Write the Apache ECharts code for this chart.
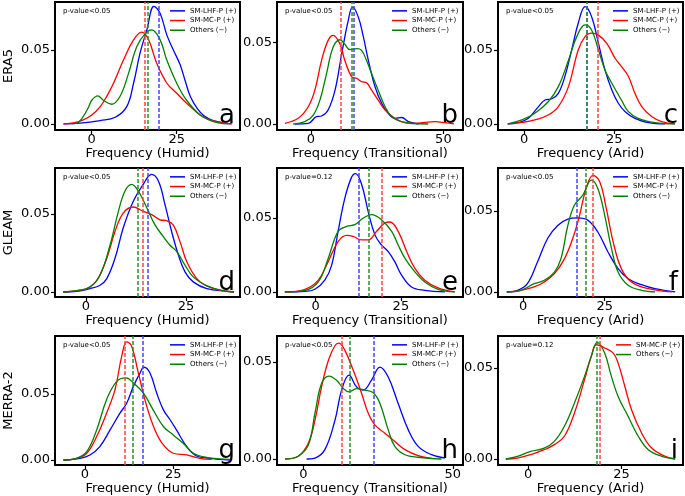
<!DOCTYPE html>
<html><head><meta charset="utf-8">
<script src="https://cdn.jsdelivr.net/npm/echarts@6/dist/echarts.min.js"></script>
<style>html,body{margin:0;padding:0;background:#fff}#c{width:685px;height:496px}</style>
</head><body><div id="c"></div>
<script>
// ---------- DATA ----------
const seriesNames = ['SM-LHF-P (+)', 'SM-MC-P (+)', 'Others (\u2212)'];
const rowNames = ['ERA5', 'GLEAM', 'MERRA-2'];
const xTitles = ['Frequency (Humid)', 'Frequency (Transitional)', 'Frequency (Arid)'];
const panelLetters = ['a','b','c','d','e','f','g','h','i'];
const pValues = ['p-value<0.05','p-value<0.05','p-value<0.05','p-value<0.05','p-value=0.12','p-value<0.05','p-value<0.05','p-value<0.05','p-value=0.12'];
const xTicks = [[0,25],[0,50],[0,25],[0,25],[0,25],[0,25],[0,25],[0,50],[0,25]];
const yTicks = [0, 0.05];

// vertical dashed lines [LHF, MC, Others]
const a_med = [19.6, 15.5, 16.5];
const b_med = [16.2, 11.2, 15.4];
const c_med = [17.3, 20.3, 17.3];
const d_med = [15.4, 14.3, 12.9];
const e_med = [12.7, 19.3, 15.7];
const f_med = [16.4, 21.4, 19.3];
const g_med = [16.4, 11.3, 13.4];
const h_med = [23.6, 13.0, 15.4];
const i_med = [null, 19.3, 18.4];

// ERA5 Humid
const a_lhf = [[-8.3,0],[-3.4,0.0005],[2.5,0.0023],[6.9,0.0045],[10.3,0.0117],[12.3,0.0275],[14.2,0.0478],[16.2,0.0635],[18.3,0.0795],[20.1,0.0748],[22.1,0.06],[24,0.05],[26,0.04],[27.5,0.029],[29,0.0185],[31,0.0105],[33,0.0055],[35,0.003],[37,0.0015],[39.5,0.0004],[41,0]];
const a_mc  = [[-8.3,0],[-5,0.0008],[-2.5,0.0027],[0,0.006],[2.5,0.0117],[4.5,0.019],[6.4,0.0275],[9.3,0.043],[12.3,0.0568],[14.7,0.062],[16.7,0.057],[19.1,0.041],[22.1,0.0275],[25,0.0207],[27.9,0.014],[31.9,0.006],[34.5,0.003],[36.8,0.0016],[39,0.0005],[41.3,0]];
const a_oth = [[-5.9,0],[-4,0.001],[-2.5,0.005],[-1,0.011],[0,0.016],[1.8,0.019],[3.4,0.016],[5.9,0.0133],[8.3,0.0185],[10.8,0.034],[13.2,0.052],[15.7,0.061],[17.6,0.0635],[20.1,0.0568],[22.1,0.043],[25,0.0275],[27.9,0.016],[31.9,0.006],[35.8,0.0016],[40,0]];
// ERA5 Transitional
const b_lhf = [[-6,0],[-1,0.0004],[2.1,0.0045],[4,0.0049],[6.5,0.0086],[9.1,0.0208],[11.6,0.043],[14.1,0.0637],[15.7,0.0718],[17.9,0.0657],[19.8,0.0535],[21.7,0.039],[24.2,0.0229],[26.7,0.0127],[29.2,0.0065],[31.7,0.0035],[34.3,0.004],[36.8,0.0014],[40.6,0]];
const b_mc  = [[-9.8,0.0004],[-4.8,0.0035],[-1,0.0106],[1.5,0.0208],[4,0.039],[6.5,0.0514],[8.4,0.0545],[11,0.049],[12.8,0.039],[15.4,0.029],[17.3,0.028],[19.1,0.026],[21,0.0253],[22.9,0.0208],[25.4,0.0147],[28,0.0086],[31.7,0.0035],[35.5,0.0008],[39.3,0.0004],[43,0.001],[46.9,0.0014],[50.6,0.0008],[54,0]];
const b_oth = [[-6.7,0],[-2.3,0.0014],[0.9,0.0055],[3.4,0.0147],[5.9,0.031],[8.4,0.0473],[11,0.0518],[12.8,0.049],[14.7,0.0457],[17.3,0.0463],[19.1,0.0453],[21,0.039],[22.9,0.031],[25.4,0.0208],[28,0.0106],[30.5,0.0045],[34.3,0.0014],[38,0.0003],[44.3,0]];
// ERA5 Arid
const c_lhf = [[-4.5,0],[-1.6,0.0009],[1.2,0.0038],[4,0.0117],[5.8,0.0162],[7.7,0.017],[9.5,0.0207],[11.3,0.032],[13.2,0.05],[15,0.068],[16.9,0.0793],[18.7,0.0725],[20.6,0.0545],[22.4,0.0365],[24.3,0.023],[26.1,0.014],[28,0.0083],[30.7,0.0038],[34.4,0.0009],[39,0]];
const c_mc  = [[-4.5,0],[-0.6,0.001],[3,0.0027],[6.7,0.006],[9.5,0.0117],[12.3,0.0252],[15,0.05],[16.9,0.059],[18.7,0.0613],[20.6,0.06],[22.9,0.0545],[25.2,0.0444],[27,0.0387],[28.9,0.032],[30.7,0.0207],[32.6,0.0117],[35.3,0.005],[38.1,0.0016],[41.8,0]];
const c_oth = [[-4.5,0],[-0.6,0.0027],[3,0.0072],[6.7,0.015],[9.5,0.0252],[12.3,0.043],[14.6,0.059],[16.9,0.0669],[18.7,0.0635],[20.6,0.05],[22.4,0.0365],[24.3,0.0275],[27,0.016],[28.9,0.0083],[31.6,0.0038],[36.3,0.0009],[41.8,0]];
// GLEAM Humid
const d_lhf = [[-5.7,0],[-2.3,0.0004],[1,0.0022],[3.5,0.0043],[5.2,0.0086],[7.25,0.0216],[9.3,0.041],[11.8,0.058],[14.3,0.069],[16.4,0.0754],[18.1,0.0711],[19.75,0.056],[21.4,0.0388],[23.1,0.0237],[24.75,0.0129],[26.8,0.0065],[30.2,0.0022],[35.2,0.0004],[37,0]];
const d_mc  = [[-5.7,0],[-2.3,0.0009],[0.2,0.0022],[2.7,0.0075],[5.2,0.0216],[7.25,0.0388],[9.3,0.0506],[11.8,0.0545],[14.3,0.0517],[16.4,0.0496],[18.5,0.0463],[20.2,0.0457],[21.8,0.043],[23.5,0.0323],[25.2,0.0194],[27.7,0.0086],[30.2,0.0039],[33.5,0.001],[36,0.0004],[37,0]];
const d_oth = [[-5.7,0],[-2.3,0.0009],[1,0.0032],[3.5,0.0108],[6,0.03],[8.1,0.0517],[9.75,0.0647],[11.4,0.069],[13.1,0.0647],[15.2,0.054],[17.25,0.043],[19.3,0.0356],[21,0.03],[22.7,0.0259],[24.75,0.0172],[26.8,0.0097],[30.2,0.0039],[35.2,0.0004],[37,0]];
// GLEAM Transitional
const e_lhf = [[-9,0],[-3.1,0.0005],[-0.2,0.0018],[2.7,0.008],[4.7,0.018],[6.6,0.041],[8.6,0.0636],[10.5,0.0773],[11.7,0.08],[13.5,0.0727],[15.4,0.0545],[17.4,0.0386],[19.3,0.0318],[21.3,0.0273],[23.2,0.0205],[25.2,0.0114],[28.1,0.0034],[32,0.0011],[37.9,0]];
const e_mc  = [[-9,0],[-3.1,0.0018],[0.8,0.008],[3.7,0.0205],[6.6,0.034],[9.1,0.0382],[11,0.0375],[13.5,0.0352],[15.4,0.0352],[17.9,0.041],[20.3,0.0466],[21.8,0.0473],[24.2,0.041],[26.7,0.0273],[29.1,0.0159],[32,0.008],[35.9,0.0027],[40.8,0]];
const e_oth = [[-9,0],[-3.1,0.0011],[0.8,0.0068],[3.7,0.0227],[6.6,0.041],[9.1,0.0443],[11.5,0.0455],[14,0.05],[16.4,0.0523],[19.3,0.0489],[22.3,0.041],[24.2,0.0318],[26.2,0.0227],[29.1,0.0136],[32,0.0068],[35.9,0.0018],[40.8,0]];
// GLEAM Arid
const f_lhf = [[-5,0],[-1.7,0.001],[1.3,0.0051],[4.4,0.0185],[7.5,0.033],[10.6,0.041],[13.7,0.0449],[16.8,0.0457],[19.9,0.0442],[22.9,0.037],[26,0.0247],[29.1,0.0144],[32.2,0.0082],[36.3,0.0045],[40.4,0.002],[46.6,0]];
const f_mc  = [[-5,0],[-0.7,0.001],[3.4,0.0031],[6.5,0.0062],[9.6,0.0113],[12.7,0.0206],[15.2,0.033],[17.3,0.0473],[19.3,0.0638],[21.4,0.072],[23.5,0.0679],[25.5,0.0514],[27.6,0.0309],[30.1,0.0144],[33.2,0.0062],[38.4,0.002],[45.6,0]];
const f_oth = [[-5,0],[-0.7,0.001],[3.4,0.0051],[6.5,0.0072],[9.6,0.0123],[11.6,0.0206],[13.7,0.041],[15.7,0.0535],[18.3,0.0597],[20.9,0.069],[22.9,0.0638],[25,0.0473],[27.1,0.0267],[29.1,0.0123],[32.2,0.0041],[36.3,0.001],[40.4,0]];
// MERRA-2 Humid
const g_lhf = [[-6.1,0],[-1.4,0.0013],[1.4,0.0038],[4.2,0.0102],[7.1,0.0228],[9.9,0.0355],[11.8,0.043],[13.7,0.0558],[15.6,0.066],[16.7,0.0703],[18.4,0.066],[20.3,0.0508],[22.2,0.038],[24.1,0.0305],[25.9,0.0228],[28.8,0.0102],[31.6,0.003],[35.4,0.0013],[41,0]];
const g_mc  = [[-6.1,0],[-2.4,0.0013],[0.5,0.0051],[3.3,0.0178],[6.1,0.0355],[8.5,0.0533],[10.4,0.0787],[11.8,0.0896],[13.2,0.0863],[15.1,0.066],[17.5,0.0406],[19.8,0.0228],[22.2,0.0114],[25,0.0051],[28.8,0.0038],[32.5,0.0013],[35.9,0.0005]];
const g_oth = [[-6.1,0],[-2.4,0.0013],[0.5,0.0063],[3.3,0.0228],[6.1,0.0457],[9,0.0596],[11.6,0.0622],[13.7,0.0584],[16.5,0.0508],[19.3,0.038],[22.2,0.0254],[25,0.019],[27.8,0.0127],[30.7,0.0051],[34.4,0.002],[41,0.0005]];
// MERRA-2 Transitional
const h_lhf = [[1.1,0],[3.9,0.0005],[7.2,0.0048],[10.6,0.0201],[12.8,0.0355],[15.3,0.0432],[17.8,0.0372],[20,0.0355],[22.8,0.0406],[25.6,0.0474],[28.4,0.0423],[31.7,0.0287],[35.1,0.015],[38.4,0.0065],[42.9,0.0022],[47.3,0.0005]];
const h_mc  = [[-6.1,0],[-1.7,0.0014],[1.7,0.0082],[3.9,0.0201],[6.1,0.0372],[8.4,0.0509],[10.6,0.0585],[11.9,0.0597],[13.9,0.056],[16.7,0.0457],[19.5,0.0338],[21.7,0.0236],[23.9,0.0176],[27.3,0.0133],[30.6,0.009],[34,0.0048],[38.4,0.0017],[42.9,0.0003]];
const h_oth = [[-6.1,0],[-1.7,0.0014],[1.7,0.0073],[3.9,0.0236],[6.1,0.0389],[8.6,0.0427],[11.1,0.0406],[13.4,0.0363],[15.3,0.0346],[17.8,0.0363],[20.6,0.0355],[23.4,0.0341],[25.6,0.0287],[28.4,0.015],[30.6,0.0065],[34,0.0022],[38.4,0.0009],[46.2,0]];
// MERRA-2 Arid
const i_mc  = [[-6,0],[-2.9,0.0005],[0.7,0.0024],[4.3,0.0051],[7,0.0079],[9.7,0.0125],[12.4,0.0253],[15.1,0.0436],[16.9,0.0564],[18.3,0.0628],[20.5,0.061],[22.8,0.0582],[24.1,0.0527],[25.9,0.04],[27.7,0.0271],[30.4,0.0143],[33.1,0.006],[36.7,0.0015],[39.4,0]];
const i_oth = [[-6,0],[-2.9,0.0015],[0.7,0.0042],[4.3,0.006],[7,0.0097],[9.7,0.018],[12.4,0.0308],[15.1,0.0454],[16.9,0.0564],[18.5,0.0641],[20.5,0.0582],[22.3,0.0454],[24.1,0.0344],[26.8,0.0234],[29.5,0.0125],[32.2,0.0051],[35.8,0.0015],[39.4,0]];

// axis ranges
const xRanges = [[-10.8,43.6],[-12.8,57.4],[-7.2,44.0],[-7.75,38.5],[-11.3,43.2],[-7.7,49.0],[-8.5,43.9],[-8.8,53.4],[-8.1,41.5]];
const yRanges = [[-0.0041,0.0824],[-0.0037,0.075],[-0.0041,0.0824],[-0.0032,0.0795],[-0.0034,0.0838],[-0.0031,0.0765],[-0.0038,0.094],[-0.0031,0.0634],[-0.0033,0.0676]];

// ---------- BUILD ----------
const curves = [
  [a_lhf,a_mc,a_oth],[b_lhf,b_mc,b_oth],[c_lhf,c_mc,c_oth],
  [d_lhf,d_mc,d_oth],[e_lhf,e_mc,e_oth],[f_lhf,f_mc,f_oth],
  [g_lhf,g_mc,g_oth],[h_lhf,h_mc,h_oth],[null,i_mc,i_oth]
];
const medians = [a_med,b_med,c_med,d_med,e_med,f_med,g_med,h_med,i_med];
const COLORS = ['#0000ff','#ff0000','#008000'];
const DASH = ['#4444ff','#ff4444','#2a8f2a'];
const FONT = 'DejaVu Sans';
const colL = [55, 277, 498], colR = [240, 463, 683];
const rowT = [2, 168, 336], rowB = [130, 297, 465];

const grids = [], xAxes = [], yAxes = [], series = [], legends = [], graphics = [];
for (let p = 0; p < 9; p++) {
  const r = Math.floor(p / 3), c = p % 3;
  const L = colL[c], R = colR[c], T = rowT[r], B = rowB[r];
  grids.push({left: L, top: T, width: R - L, height: B - T, show: true, borderColor: '#000', borderWidth: 2, backgroundColor: 'transparent'});
  xAxes.push({
    type: 'value', gridIndex: p, min: xRanges[p][0], max: xRanges[p][1], position: 'bottom',
    name: xTitles[c], nameLocation: 'middle', nameGap: 16,
    nameTextStyle: {fontFamily: FONT, fontSize: 13, color: '#000'},
    axisLine: {show: false, onZero: false}, splitLine: {show: false},
    axisTick: {show: true, length: 4, customValues: xTicks[p], lineStyle: {color: '#000', width: 1.2}},
    axisLabel: {show: true, customValues: xTicks[p], margin: 3, fontFamily: FONT, fontSize: 13, color: '#000'}
  });
  yAxes.push({
    type: 'value', gridIndex: p, min: yRanges[p][0], max: yRanges[p][1], position: 'left',
    name: c === 0 ? rowNames[r] : '', nameLocation: 'middle', nameGap: 40,
    nameTextStyle: {fontFamily: FONT, fontSize: 13, color: '#000'},
    axisLine: {show: false, onZero: false}, splitLine: {show: false},
    axisTick: {show: true, length: 4, customValues: yTicks, lineStyle: {color: '#000', width: 1.2}},
    axisLabel: {show: true, customValues: yTicks, margin: 5, fontFamily: FONT, fontSize: 13, color: '#000',
      formatter: v => Number(v).toFixed(2)}
  });
  const names = [];
  for (let k = 0; k < 3; k++) {
    if (!curves[p][k]) continue;
    names.push(seriesNames[k]);
    series.push({
      type: 'line', name: seriesNames[k], xAxisIndex: p, yAxisIndex: p,
      data: curves[p][k], smooth: 0.4, showSymbol: false, symbol: 'none',
      lineStyle: {color: COLORS[k], width: 1.3}, itemStyle: {color: COLORS[k]},
      animation: false, silent: true, z: 2,
      markLine: {symbol: 'none', silent: true, animation: false, label: {show: false},
        lineStyle: {type: [4, 2], color: DASH[k], width: 1.5},
        data: [{xAxis: medians[p][k]}]}
    });
  }
  legends.push({
    data: names, orient: 'vertical', left: L + (p === 8 ? 118 : 115), top: T + 4,
    icon: 'rect', itemWidth: 15, itemHeight: 1.5, itemGap: 0, padding: 0, selectedMode: false,
    textStyle: {fontFamily: FONT, fontSize: 7, lineHeight: 9.7, color: '#000'}
  });
  graphics.push({type: 'text', left: L + 8, top: T + 6, silent: true,
    style: {text: pValues[p], fontFamily: FONT, fontSize: 7, fill: '#000'}});
  graphics.push({type: 'text', x: R - 5, y: B - 1, silent: true,
    style: {text: panelLetters[p], fontFamily: FONT, fontSize: 26, fill: '#000', align: 'right', verticalAlign: 'bottom'}});
}

const chart = echarts.init(document.getElementById('c'), null, {renderer: 'canvas'});
chart.setOption({
  backgroundColor: '#fff', animation: false,
  grid: grids, xAxis: xAxes, yAxis: yAxes, series: series, legend: legends, graphic: graphics
});
</script></body></html>
